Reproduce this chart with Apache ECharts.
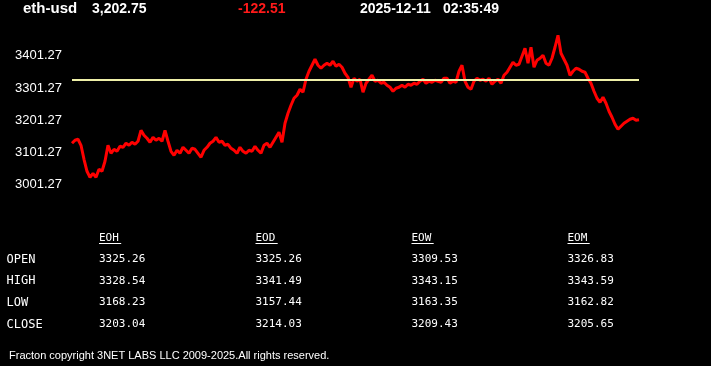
<!DOCTYPE html>
<html><head><meta charset="utf-8">
<script src="https://cdn.jsdelivr.net/npm/echarts@6/dist/echarts.min.js"></script>
<style>html,body{margin:0;padding:0;background:#000;}#c{width:711px;height:366px;}</style>
</head><body><div id="c"></div>
<script>
const symbol = 'eth-usd';
const lastPrice = '3,202.75';
const change = '-122.51';
const dateText = '2025-12-11';
const timeText = '02:35:49';
const yTicks = [3001.27, 3101.27, 3201.27, 3301.27, 3401.27];
const refLevel = 3325.26;
const prices = [
3129.6, 3138.9, 3142.0, 3123.3, 3079.9, 3042.6, 3023.9, 3036.4, 3023.9, 3048.8,
3042.6, 3073.6, 3123.3, 3098.5, 3110.9, 3104.7, 3120.2, 3117.1, 3129.6, 3123.3,
3132.7, 3126.4, 3135.8, 3169.9, 3154.4, 3145.1, 3132.7, 3148.2, 3138.9, 3145.1,
3135.8, 3169.9, 3135.8, 3104.7, 3092.3, 3107.8, 3098.5, 3117.1, 3107.8, 3098.5,
3114.0, 3110.9, 3098.5, 3086.1, 3107.8, 3117.1, 3129.6, 3135.8, 3148.2, 3132.7,
3135.8, 3123.3, 3126.4, 3114.0, 3107.8, 3098.5, 3117.1, 3104.7, 3098.5, 3107.8,
3104.7, 3120.2, 3107.8, 3098.5, 3123.3, 3129.6, 3117.1, 3132.7, 3148.2, 3163.7,
3132.7, 3191.7, 3222.7, 3247.6, 3269.3, 3278.6, 3297.3, 3288.0, 3328.3, 3353.2,
3371.8, 3390.5, 3371.8, 3362.5, 3371.8, 3378.0, 3371.8, 3384.2, 3368.7, 3374.9,
3365.6, 3347.0, 3334.5, 3303.5, 3331.4, 3322.1, 3328.3, 3288.0, 3315.9, 3328.3,
3340.8, 3322.1, 3325.2, 3315.9, 3319.0, 3309.7, 3303.5, 3291.1, 3300.4, 3303.5,
3309.7, 3303.5, 3312.8, 3309.7, 3315.9, 3312.8, 3322.1, 3328.3, 3315.9, 3322.1,
3319.0, 3325.2, 3322.1, 3319.0, 3331.4, 3331.4, 3315.9, 3322.1, 3319.0, 3353.2,
3371.8, 3322.1, 3303.5, 3297.3, 3322.1, 3331.4, 3325.2, 3328.3, 3322.1, 3331.4,
3312.8, 3322.1, 3328.3, 3315.9, 3340.8, 3350.1, 3365.6, 3381.1, 3371.8, 3374.9,
3399.8, 3424.6, 3378.0, 3427.7, 3365.6, 3387.4, 3393.6, 3402.9, 3378.0, 3371.8,
3393.6, 3427.7, 3465.0, 3409.1, 3390.5, 3371.8, 3340.8, 3353.2, 3362.5, 3359.4,
3353.2, 3350.1, 3331.4, 3315.9, 3291.1, 3269.3, 3256.9, 3272.4, 3253.8, 3228.9,
3210.3, 3188.6, 3173.0, 3182.4, 3191.7, 3197.9, 3204.1, 3207.2, 3201.0, 3202.75
];
const tableCols = ['EOH', 'EOD', 'EOW', 'EOM'];
const rowLabels = ['OPEN', 'HIGH', 'LOW', 'CLOSE'];
const openVals = [3325.26, 3325.26, 3309.53, 3326.83];
const highVals = [3328.54, 3341.49, 3343.15, 3343.59];
const lowVals = [3168.23, 3157.44, 3163.35, 3162.82];
const closeVals = [3203.04, 3214.03, 3209.43, 3205.65];
const footerText = 'Fracton copyright 3NET LABS LLC 2009-2025.All rights reserved.';

const chart = echarts.init(document.getElementById('c'), null, {renderer: 'canvas'});
const sans = '"Liberation Sans", Arial, sans-serif';
const mono = '"DejaVu Sans Mono", "Liberation Mono", monospace';

function txt(x, y, text, fill, font, align) {
  return {type: 'text', x: x, y: y, silent: true,
    style: {text: text, fill: fill, font: font, align: align || 'left', verticalAlign: 'middle', textVerticalAlign: 'middle'}};
}

const g = [];
g.push(txt(23, 9, symbol, '#ffffff', 'bold 15px ' + sans));
g.push(txt(92, 9, lastPrice, '#ffffff', 'bold 14px ' + sans));
g.push(txt(238, 9, change, '#ff1a1a', 'bold 14px ' + sans));
g.push(txt(360, 9, dateText, '#ffffff', 'bold 14px ' + sans));
g.push(txt(443, 9, timeText, '#ffffff', 'bold 14px ' + sans));

const colX = [99, 255.5, 411.5, 567.5];
const rowY = [259.5, 281, 302.5, 324.5];
const rows = [openVals, highVals, lowVals, closeVals];
const monoFont = '11px ' + mono;
tableCols.forEach((c, i) => {
  g.push(txt(colX[i], 238, c, '#ffffff', monoFont));
  g.push({type: 'line', silent: true, shape: {x1: colX[i], y1: 243.5, x2: colX[i] + c.length * 7.4, y2: 243.5},
    style: {stroke: '#ffffff', lineWidth: 1}});
});
rowLabels.forEach((r, j) => {
  g.push(txt(6.5, rowY[j], r, '#ffffff', '12px ' + mono));
  rows[j].forEach((v, i) => g.push(txt(colX[i], rowY[j], v.toFixed(2), '#ffffff', monoFont)));
});
g.push(txt(9, 355.5, footerText, '#ffffff', '11px ' + sans));

chart.setOption({
  backgroundColor: '#000000',
  animation: false,
  grid: {left: 72, right: 72, top: 30, bottom: 181.4, containLabel: false},
  xAxis: {type: 'category', data: prices.map((_, i) => i), boundaryGap: false,
    axisLine: {show: false}, axisTick: {show: false}, axisLabel: {show: false}, splitLine: {show: false}},
  yAxis: {type: 'value', min: yTicks[0], max: 3481.27, interval: 100,
    axisLine: {show: false}, axisTick: {show: false}, splitLine: {show: false},
    axisLabel: {color: '#ffffff', fontSize: 13, fontFamily: sans, margin: 10, showMaxLabel: false,
      formatter: v => yTicks.some(t => Math.abs(t - v) < 0.01) ? v.toFixed(2) : ''}},
  series: [{
    type: 'line', data: prices, showSymbol: false, symbol: 'none',
    lineStyle: {color: '#ff0000', width: 3}, silent: true,
    markLine: {silent: true, symbol: ['none', 'none'], label: {show: false},
      lineStyle: {color: '#eef0a8', width: 2, type: 'solid'},
      data: [{yAxis: refLevel}]}
  }],
  graphic: g
});
</script>
</body></html>
